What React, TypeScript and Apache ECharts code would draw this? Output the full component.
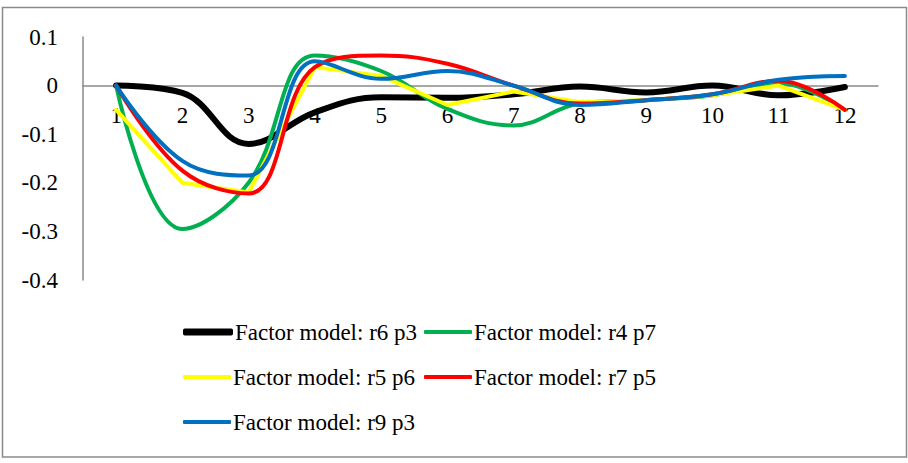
import React, { useEffect, useRef } from "react";
import * as echarts from "echarts";

const categories = ["1", "2", "3", "4", "5", "6", "7", "8", "9", "10", "11", "12"];
const seriesNames = [
  "Factor model: r6 p3",
  "Factor model: r4 p7",
  "Factor model: r5 p6",
  "Factor model: r7 p5",
  "Factor model: r9 p3",
];
const r6p3 = [0, -0.015, -0.12, -0.055, -0.024, -0.025, -0.018, -0.002, -0.014, 0.0, -0.02, -0.003];
const r4p7 = [0, -0.295, -0.2, 0.062, 0.03, -0.048, -0.082, -0.037, -0.03, -0.02, 0.005, -0.05];
const r5p6 = [-0.05, -0.2, -0.22, 0.038, 0.02, -0.04, -0.012, -0.034, -0.03, -0.02, 0.0, -0.05];
const r7p5 = [0, -0.175, -0.222, 0.038, 0.062, 0.045, 0.0, -0.037, -0.03, -0.018, 0.01, -0.05];
const r9p3 = [0, -0.155, -0.185, 0.05, 0.014, 0.03, 0.0, -0.04, -0.03, -0.018, 0.012, 0.02];
const seriesValues = [r6p3, r4p7, r5p6, r7p5, r9p3];
const colors = ["#000000", "#00B050", "#FFFF00", "#FF0000", "#0070C0"];
const widths = [6, 4, 4, 4, 4];
const smoothFlags = [true, true, false, true, true];

const FONT = "'Liberation Serif', 'Times New Roman', serif";

export default function App() {
  const ref = useRef<HTMLDivElement>(null);
  useEffect(() => {
    document.body.style.margin = "0";
    if (!ref.current) return;
    const chart = echarts.init(ref.current, null, { renderer: "svg" });
    const legendPos = [
      { left: 183, top: 320 },
      { left: 424, top: 320 },
      { left: 183, top: 365 },
      { left: 424, top: 365 },
      { left: 183, top: 410 },
    ];
    const gridTop = 37;
    const gridBottom = 183;
    const gridHeight = 463 - gridTop - gridBottom;
    const zeroFromBottom = gridHeight * (0.4 / 0.5);
    chart.setOption({
      animation: false,
      backgroundColor: "#ffffff",
      grid: { left: 83, right: 30, top: gridTop, bottom: gridBottom, containLabel: false },
      xAxis: {
        type: "category",
        data: categories,
        boundaryGap: true,
        position: "bottom",
        offset: -zeroFromBottom,
        axisLine: { onZero: false, lineStyle: { color: "#8a8a8a", width: 1.5 } },
        axisTick: { show: false },
        axisLabel: { color: "#000", fontFamily: FONT, fontSize: 23, lineHeight: 24, margin: 18 },
        splitLine: { show: false },
      },
      yAxis: {
        type: "value",
        min: -0.4,
        max: 0.1,
        interval: 0.1,
        axisLine: { show: true, lineStyle: { color: "#8a8a8a", width: 1.5 } },
        axisTick: { show: false },
        splitLine: { show: false },
        axisLabel: {
          color: "#000",
          fontFamily: FONT,
          fontSize: 23,
          margin: 25,
          formatter: (v: number) => {
            const r = Math.round(v * 10) / 10;
            return r === 0 ? "0" : String(r);
          },
        },
      },
      legend: seriesNames.map((n, i) => ({
        data: [n],
        left: legendPos[i].left,
        top: legendPos[i].top,
        padding: 0,
        icon: "roundRect",
        itemWidth: i === 0 ? 50 : 48,
        itemHeight: i === 0 ? 7 : 4,
        selectedMode: false,
        textStyle: { color: "#000", fontFamily: FONT, fontSize: 23, lineHeight: 24, padding: [0, 0, 0, -3] },
      })),
      series: seriesNames.map((n, i) => ({
        name: n,
        type: "line",
        data: seriesValues[i],
        smooth: smoothFlags[i] ? 0.4 : false,
        symbol: "none",
        lineStyle: { color: colors[i], width: widths[i], cap: "round", join: "round" },
        itemStyle: { color: colors[i] },
        z: 2 + i,
      })),
      graphic: [
        {
          type: "rect",
          shape: { x: 2.5, y: 7.5, width: 904, height: 449.5 },
          style: { fill: "none", stroke: "#8a8a8a", lineWidth: 1.5 },
          silent: true,
        },
      ],
    });
    return () => chart.dispose();
  }, []);
  return <div ref={ref} style={{ width: 908, height: 463 }} />;
}
